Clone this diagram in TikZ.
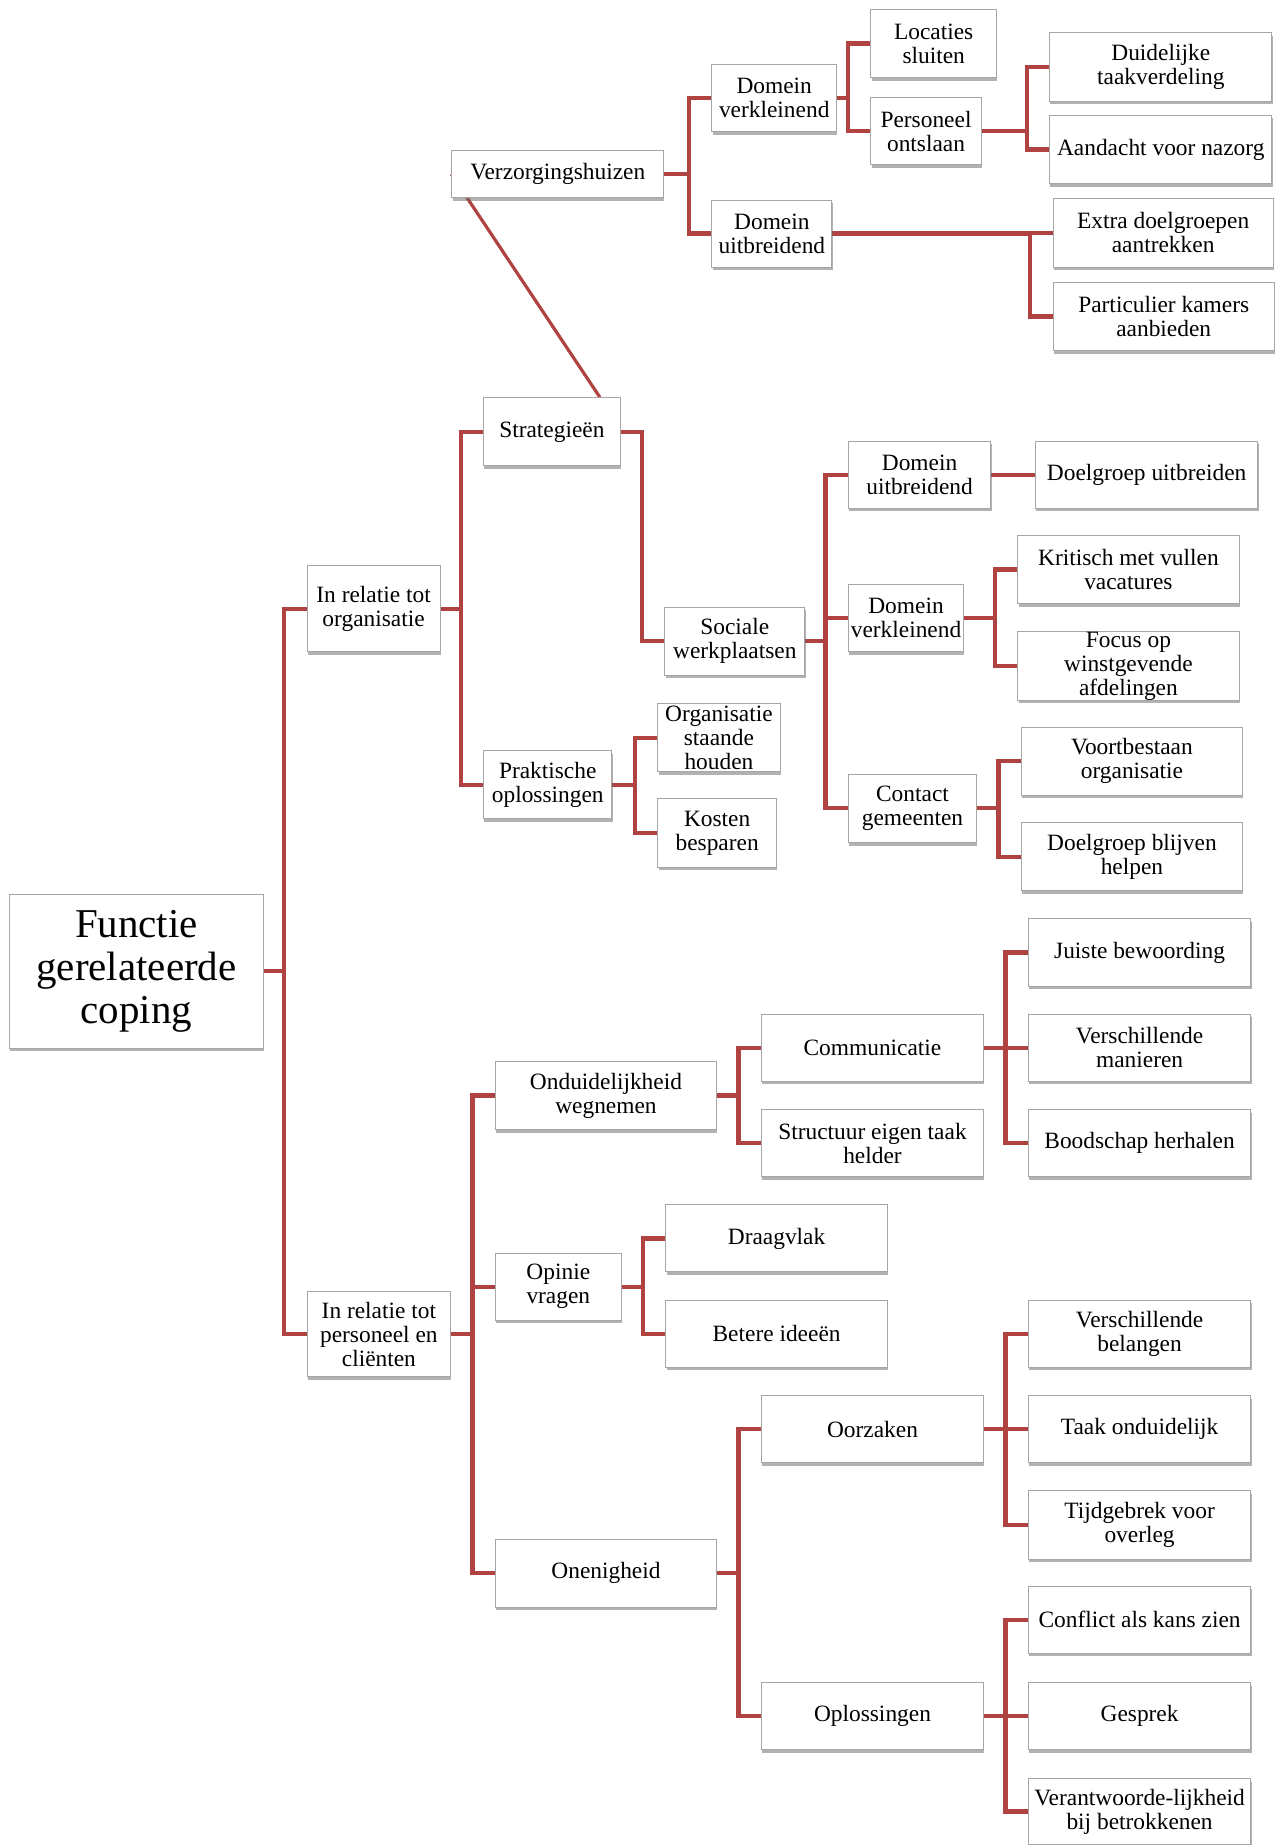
\documentclass[tikz,border=0pt]{standalone}
\usepackage{fontspec}
\setmainfont{Liberation Serif}
\usepackage{tikz}
\usetikzlibrary{shadows, backgrounds}
\definecolor{linkred}{RGB}{176,66,66}
\tikzset{
  box/.style={draw=black!35, line width=0.5pt, fill=white, align=center, inner sep=0pt,
    font=\fontsize{11.7}{12}\selectfont,
    drop shadow={shadow xshift=0.4pt, shadow yshift=-1.5pt, fill=black!60, opacity=0.5}},
  sz/.style 2 args={minimum width=#1*0.5886pt, minimum height=#2*0.5886pt},
  link/.style={draw=linkred, line width=2.1pt},
}

\begin{document}
\begin{tikzpicture}[x=0.5886pt, y=-0.5886pt]
  \useasboundingbox (0,0) rectangle (1084,1568);
  \node[box, sz={216}{131}, font=\fontsize{20.5}{21.6}\selectfont] (functie) at (116,825.5) {Functie\\gerelateerde\\coping};
  \node[box, sz={113}{73}] (relorg) at (317.5,517.5) {In relatie tot\\organisatie};
  \node[box, sz={122}{72}] (relpers) at (322,1134) {In relatie tot\\personeel en\\cliënten};

  \node[box, sz={180}{40}] (verz) at (474,148) {Verzorgingshuizen};
  \node[box, sz={106}{57}] (domverk) at (658,83.5) {Domein\\verkleinend};
  \node[box, sz={102}{57}] (domuit) at (656,198.5) {Domein\\uitbreidend};
  \node[box, sz={107}{58}] (locaties) at (793.5,37) {Locaties\\sluiten};
  \node[box, sz={94}{57}] (personeel) at (787,111.5) {Personeel\\ontslaan};
  \node[box, sz={189}{58}] (taakverd) at (986.5,57) {Duidelijke\\taakverdeling};
  \node[box, sz={189}{58}] (nazorg) at (986.5,127) {Aandacht voor nazorg};
  \node[box, sz={187}{58}] (extra) at (988.5,198) {Extra doelgroepen\\aantrekken};
  \node[box, sz={188}{58}] (kamers) at (989,269) {Particulier kamers\\aanbieden};

  \node[box, sz={116}{58}] (strat) at (469,367) {Strategieën};
  \node[box, sz={109}{58}] (prakt) at (465.5,667) {Praktische\\oplossingen};
  \node[box, sz={119}{58}] (sociaal) at (624.5,545) {Sociale\\werkplaatsen};
  \node[box, sz={104}{58}] (staande) at (611,627) {Organisatie\\staande\\houden};
  \node[box, sz={101}{58}] (kosten) at (609.5,708) {Kosten\\besparen};
  \node[box, sz={121}{57}] (domuitb) at (781.5,403.5) {Domein\\uitbreidend};
  \node[box, sz={189}{57}] (doelgr) at (974.5,403.5) {Doelgroep uitbreiden};
  \node[box, sz={98}{57}] (domverkb) at (770,525.5) {Domein\\verkleinend};
  \node[box, sz={188}{58}] (kritisch) at (959,484) {Kritisch met vullen\\vacatures};
  \node[box, sz={188}{58}] (focus) at (959,566) {Focus op\\winstgevende\\afdelingen};
  \node[box, sz={109}{58}] (contact) at (775.5,687) {Contact\\gemeenten};
  \node[box, sz={188}{58}] (voortb) at (962,647) {Voortbestaan\\organisatie};
  \node[box, sz={188}{58}] (blijven) at (962,728) {Doelgroep blijven\\helpen};

  \node[box, sz={188}{58}] (onduid) at (515,931) {Onduidelijkheid\\wegnemen};
  \node[box, sz={107}{57}] (opinie) at (474.5,1093.5) {Opinie\\vragen};
  \node[box, sz={188}{58}] (onenig) at (515,1337) {Onenigheid};
  \node[box, sz={189}{57}] (comm) at (741.5,890.5) {Communicatie};
  \node[box, sz={189}{57}] (struct) at (741.5,971.5) {Structuur eigen taak\\helder};
  \node[box, sz={188}{57}] (draag) at (660,1052.5) {Draagvlak};
  \node[box, sz={188}{57}] (betere) at (660,1133.5) {Betere ideeën};
  \node[box, sz={189}{57}] (juiste) at (968.5,809.5) {Juiste bewoording};
  \node[box, sz={189}{57}] (manieren) at (968.5,890.5) {Verschillende\\manieren};
  \node[box, sz={189}{57}] (herhalen) at (968.5,971.5) {Boodschap herhalen};
  \node[box, sz={189}{57}] (belangen) at (968.5,1133.5) {Verschillende\\belangen};
  \node[box, sz={189}{57}] (oorz) at (741.5,1214.5) {Oorzaken};
  \node[box, sz={189}{57}] (onduidelijk) at (968.5,1214.5) {Taak onduidelijk};
  \node[box, sz={189}{58}] (tijd) at (968.5,1296) {Tijdgebrek voor\\overleg};
  \node[box, sz={189}{57}] (kans) at (968.5,1376.5) {Conflict als kans zien};
  \node[box, sz={189}{57}] (oploss) at (741.5,1458.5) {Oplossingen};
  \node[box, sz={189}{57}] (gesprek) at (968.5,1458.5) {Gesprek};
  \node[box, sz={189}{56}] (verantw) at (968.5,1539.5) {Verantwoorde-lijkheid\\bij betrokkenen};

  \begin{scope}[on background layer]
    \foreach \p/\c in {functie/relorg, functie/relpers,
        verz/domverk, verz/domuit, domverk/locaties, domverk/personeel,
        personeel/taakverd, personeel/nazorg, domuit/extra, domuit/kamers,
        relorg/strat, relorg/prakt, strat/sociaal, prakt/staande, prakt/kosten,
        sociaal/domuitb, sociaal/domverkb, sociaal/contact, domuitb/doelgr,
        domverkb/kritisch, domverkb/focus, contact/voortb, contact/blijven,
        relpers/onduid, relpers/opinie, relpers/onenig, onduid/comm, onduid/struct,
        comm/juiste, comm/manieren, comm/herhalen, opinie/draag, opinie/betere,
        onenig/oorz, onenig/oploss, oorz/belangen, oorz/onduidelijk, oorz/tijd,
        oploss/kans, oploss/gesprek, oploss/verantw}
      \draw[link] (\c.west) -- ++(-19,0) |- (\p.east);
    \draw[link, line width=1.6pt] ([xshift=24pt]strat.north) -- (verz.west);
  \end{scope}
\end{tikzpicture}
\end{document}
